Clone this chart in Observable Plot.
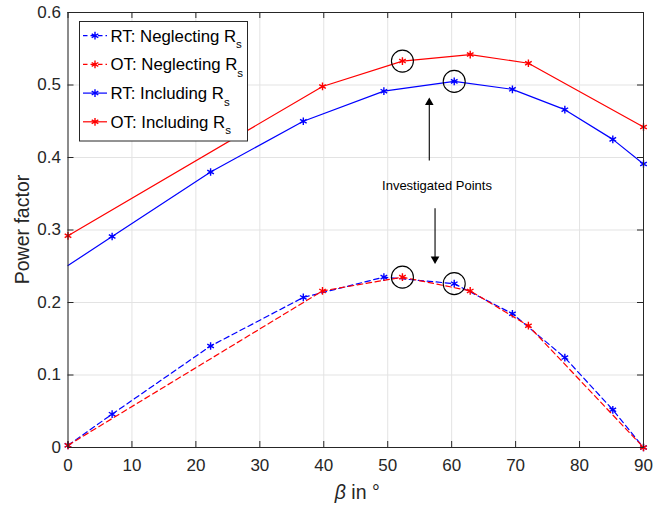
<!DOCTYPE html>
<html><head><meta charset="utf-8">
<script src="https://cdn.jsdelivr.net/npm/d3@7"></script>
<script src="https://cdn.jsdelivr.net/npm/@observablehq/plot@0.6"></script>
<style>
body{margin:0;background:#fff}
#chart{width:656px;height:506px}
</style>
</head><body><div id="chart"></div>
<script>
// ---- data ----
const xTicks = [0, 10, 20, 30, 40, 50, 60, 70, 80, 90];
const yTicks = [0, 0.1, 0.2, 0.3, 0.4, 0.5, 0.6];

const rtBeta    = [0, 6.9, 22.3, 36.8, 49.4, 60.4, 69.5, 77.7, 85.2, 90];
const rtNeglect = [0.003, 0.046, 0.140, 0.207, 0.235, 0.226, 0.1845, 0.124, 0.052, 0.0];
const rtInclude = [0.251, 0.291, 0.380, 0.450, 0.4915, 0.505, 0.494, 0.466, 0.425, 0.391];

const otBeta    = [0, 39.8, 52.3, 62.9, 72.0, 90];
const otNeglect = [0.003, 0.216, 0.235, 0.216, 0.168, 0.0];
const otInclude = [0.292, 0.498, 0.533, 0.542, 0.530, 0.442];

const seriesLabels = ["RT: Neglecting R", "OT: Neglecting R", "RT: Including R", "OT: Including R"];
const seriesSub = "s";
const seriesColors = ["#0000ff", "#ff0000", "#0000ff", "#ff0000"];
const seriesDashed = [true, true, false, false];

// investigated points: index into RT / OT arrays
const investigatedRt = 5;
const investigatedOt = 2;

const annotationText = "Investigated Points";
const annotationPos = [57.7, 0.361];
const arrowUp = [56.5, 0.396, 0.480];    // x, from y, to y
const arrowDown = [57.4, 0.330, 0.256];

// ---- build tables ----
const toRows = (xs, ys) => xs.map((b, i) => ({beta: b, pf: ys[i], i}));
const series = [
  {rows: toRows(rtBeta, rtNeglect), hideFirst: false},
  {rows: toRows(otBeta, otNeglect), hideFirst: false},
  {rows: toRows(rtBeta, rtInclude), hideFirst: true},
  {rows: toRows(otBeta, otInclude), hideFirst: false}
].map((s, k) => ({...s, color: seriesColors[k], dashed: seriesDashed[k], label: seriesLabels[k]}));

const circled = [
  {beta: rtBeta[investigatedRt], pf: rtNeglect[investigatedRt]},
  {beta: otBeta[investigatedOt], pf: otNeglect[investigatedOt]},
  {beta: rtBeta[investigatedRt], pf: rtInclude[investigatedRt]},
  {beta: otBeta[investigatedOt], pf: otInclude[investigatedOt]}
];

const W = 656, H = 506;
const mL = 67.5, mR = 13, mT = 12, mB = 59;
const plotW = W - mL - mR, plotH = H - mT - mB;
const axisColor = "#262626";
const gridColor = "#e3e3e3";
const font = "'Liberation Sans', Arial, Helvetica, sans-serif";
const dash = "5.5,3.5";
const TL = 6;

const marks = [
  Plot.gridX(xTicks, {stroke: gridColor, strokeOpacity: 1, strokeWidth: 1}),
  Plot.gridY(yTicks, {stroke: gridColor, strokeOpacity: 1, strokeWidth: 1}),
  Plot.axisX(xTicks, {tickSize: 0, tickPadding: 11, label: null, fontSize: 17, fill: axisColor}),
  Plot.axisY(yTicks, {tickSize: 0, tickPadding: 7, label: null, fontSize: 17, fill: axisColor, tickFormat: d => String(d)}),
];
for (const s of series) {
  marks.push(Plot.line(s.rows, {x: "beta", y: "pf", stroke: s.color, strokeWidth: 1.2,
    strokeDasharray: s.dashed ? dash : null}));
  marks.push(Plot.dot(s.hideFirst ? s.rows.filter(d => d.i > 0) : s.rows,
    {x: "beta", y: "pf", symbol: "asterisk", r: 3.6, stroke: s.color, strokeWidth: 1.4}));
}
marks.push(
  Plot.dot(circled, {x: "beta", y: "pf", r: 11, stroke: "black", fill: "none", strokeWidth: 1.1}),
  Plot.link([arrowUp, arrowDown], {x: d => d[0], y1: d => d[1], y2: d => d[2], stroke: "black",
    strokeWidth: 1.1}),
  // filled arrow heads at the arrow tips
  Plot.dot([arrowUp], {x: d => d[0], y: d => d[2], symbol: "triangle", r: 3.2, fill: "black",
    stroke: "none", dy: 3}),
  Plot.dot([arrowDown], {x: d => d[0], y: d => d[2], symbol: "triangle", r: 3.2, fill: "black",
    stroke: "none", rotate: 180, dy: -3}),
  Plot.text([annotationPos], {x: d => d[0], y: d => d[1], text: () => annotationText,
    fontSize: 13, fill: "black", textAnchor: "middle"}),
  Plot.frame({stroke: axisColor, strokeWidth: 1}),
  // inward ticks
  Plot.tickX(xTicks, {x: d => d, stroke: axisColor, insetTop: plotH - TL}),
  Plot.tickX(xTicks, {x: d => d, stroke: axisColor, insetBottom: plotH - TL}),
  Plot.tickY(yTicks, {y: d => d, stroke: axisColor, insetRight: plotW - TL}),
  Plot.tickY(yTicks, {y: d => d, stroke: axisColor, insetLeft: plotW - TL})
);

const chart = Plot.plot({
  width: W, height: H,
  marginLeft: mL, marginRight: mR, marginTop: mT, marginBottom: mB,
  x: {domain: [0, 90]},
  y: {domain: [0, 0.6]},
  style: {fontFamily: font, background: "white", color: axisColor, overflow: "visible"},
  marks
});

const svg = d3.select(chart);

// axis labels
const xl = svg.append("text")
  .attr("x", mL + plotW / 2 + 2).attr("y", 498.5)
  .attr("text-anchor", "middle").attr("font-size", 19.5).attr("fill", axisColor)
  .style("font-family", font);
xl.append("tspan").attr("font-style", "italic").text("β");
xl.append("tspan").text(" in °");

svg.append("text")
  .attr("transform", `translate(28.5, ${mT + plotH / 2}) rotate(-90)`)
  .attr("text-anchor", "middle").attr("font-size", 19.5).attr("fill", axisColor)
  .style("font-family", font)
  .text("Power factor");

// legend
const lg = svg.append("g").style("font-family", font).attr("text-anchor", "start");
lg.append("rect").attr("x", 79.5).attr("y", 21.5).attr("width", 168).attr("height", 119.5)
  .attr("fill", "white").attr("stroke", axisColor).attr("stroke-width", 1);
const rowBase = [41.7, 70.4, 99.1, 127.8];
const sym = d3.symbol(d3.symbolAsterisk, Math.PI * 3.6 * 3.6);
series.forEach((s, k) => {
  const cy = rowBase[k] - 6;
  lg.append("line").attr("x1", 83).attr("x2", 107).attr("y1", cy).attr("y2", cy)
    .attr("stroke", s.color).attr("stroke-width", 1.2)
    .attr("stroke-dasharray", s.dashed ? "4.5,3" : null);
  lg.append("path").attr("d", sym()).attr("transform", `translate(95,${cy})`)
    .attr("fill", "none").attr("stroke", s.color).attr("stroke-width", 1.4);
  const t = lg.append("text").attr("x", 110.5).attr("y", rowBase[k])
    .attr("text-anchor", "start")
    .attr("font-size", 16.8).attr("fill", "black");
  t.append("tspan").text(s.label);
  t.append("tspan").attr("font-size", 11.5).attr("dy", 6.6).text(seriesSub);
});

document.getElementById("chart").appendChild(chart);
</script>
</body></html>
